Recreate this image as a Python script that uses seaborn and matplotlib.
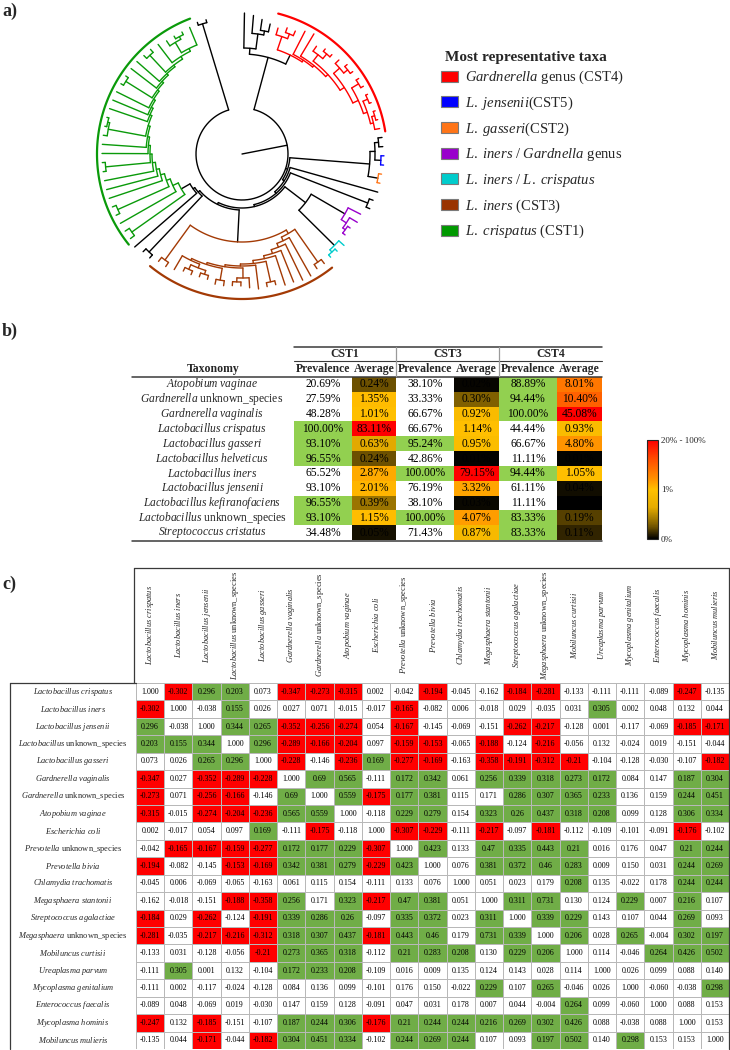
import numpy as np
import pandas as pd
import matplotlib
matplotlib.use("Agg")
import matplotlib.pyplot as plt
import seaborn as sns
from matplotlib.colors import ListedColormap, LinearSegmentedColormap, Normalize
from matplotlib.cm import ScalarMappable
from matplotlib.patches import Patch
from matplotlib.lines import Line2D

sns.set_style("white")
plt.rcParams["font.family"] = ["Liberation Serif", "DejaVu Serif"]
plt.rcParams["mathtext.fontset"] = "custom"
plt.rcParams["mathtext.rm"] = "Liberation Serif"
plt.rcParams["mathtext.it"] = "Liberation Serif:italic"
plt.rcParams["mathtext.bf"] = "Liberation Serif:bold"

# ---------------- a) dendrogram (newick, number after ':' = node radius) ----------------
TOP_BLACK = "(k1:141,(k2:139,(k3:136,k4:133):125):121):106"
RED_CLADE = ("((r1:131,(r2:134,r3:134):129):124,"
             "(r4:138,(r5:140,((r6:131,(r7:134,r8:134):131):125,"
             "((r9:135,(r10:138,r11:138):135):130,((r12:139,r13:139):136,"
             "((r14:139,r15:139):137,((r16:140,r17:140):138,r18:140):135):132):128):122):117):114):112):110")
JEN_GAS = "(((k5:141,k6:141):137,(j1:142,j2:142):139):133,(o1:141,o2:141):138):128"
BLACK_PAIR1 = "(k8:139,k9:139):135"
PURPLE = "(p1:133,(p2:134,(p3:131,p4:131):128):125):119"
CYAN = "(c1:137,(c2:136,c3:136):133):130"
BROWN = ("(((b1:137,b2:137):132,(b3:140,(b4:140,(b5:138,(b6:138,((b7:135,b8:135):131,"
         "(b9:136,((b10:134,(b11:132,b12:132):128):124,((b13:133,b14:133):128,"
         "(((b15:130,b16:130):126,(b17:131,b18:131):127):122,b19:134):118):116):114):112)"
         ":110):107):104):100):96):92,(b20:136,b21:136):131):88")
BLACK_PAIR2 = "(k10:139,k11:139):135"
GREEN = ("((g1:140,g2:140):135,(g3:140,((g4:140,g5:140):136,(g6:140,(g7:140,(g8:140,"
         "((g9:140,g10:140):137,(g11:140,(g12:140,((g13:140,(g14:140,g15:140):138):136,"
         "(g16:140,(g17:140,(g18:140,((g19:140,g20:140):137,(g21:140,(g22:140,"
         "((g23:139,g24:139):135,(g25:138,((g26:136,(g27:136,g28:136):133):130,g29:137)"
         ":118):115):112):110):108):106):104):102):100):98):96):94):92):90):87):84):80):76):70")
TOP_LEFT = "(k13:139,k14:139):136"

A8 = "(k12:142," + GREEN + "):60"
A7 = "(" + BLACK_PAIR2 + "," + A8 + "):58"
A6 = "(" + BROWN + "," + A7 + "):56"
A5 = "((" + PURPLE + "," + CYAN + "):80," + A6 + "):54"
A4 = "(" + BLACK_PAIR1 + "," + A5 + "):52"
A3 = "(k7:141," + A4 + "):50"
A2 = "(" + JEN_GAS + "," + A3 + "):48"
TREE = "((" + TOP_BLACK + "," + RED_CLADE + "):100," + A2 + "," + TOP_LEFT + "):46"

TREE_COLORS = {"r": "#ff0000", "j": "#0000ff", "o": "#ff7518", "p": "#9900cc",
               "c": "#00cccc", "b": "#a33a05", "g": "#0a9a0a"}

LEGEND_TITLE = "Most representative taxa"
LEGEND_LABELS = [r"$\mathit{Gardnerella}$ genus (CST4)", r"$\mathit{L.\ jensenii}$(CST5)",
                 r"$\mathit{L.\ gasseri}$(CST2)", r"$\mathit{L.\ iners\ /\ Gardnella}$ genus",
                 r"$\mathit{L.\ iners\ /\ L.\ crispatus}$", r"$\mathit{L.\ iners}$ (CST3)",
                 r"$\mathit{L.\ crispatus}$ (CST1)"]
LEGEND_COLORS = ["#ff0000", "#0000ff", "#ff7518", "#9900cc", "#00cccc", "#993300", "#009900"]

# ---------------- b) table ----------------
TAXA_B = ["Atopobium vaginae", "Gardnerella unknown_species", "Gardnerella vaginalis",
          "Lactobacillus crispatus", "Lactobacillus gasseri", "Lactobacillus helveticus",
          "Lactobacillus iners", "Lactobacillus jensenii", "Lactobacillus kefiranofaciens",
          "Lactobacillus unknown_species", "Streptococcus cristatus"]
CST_NAMES = ["CST1", "CST3", "CST4"]
PREV_CST1 = [20.69, 27.59, 48.28, 100.00, 93.10, 96.55, 65.52, 93.10, 96.55, 93.10, 34.48]
AVG_CST1 = [0.24, 1.35, 1.01, 83.11, 0.63, 0.24, 2.87, 2.01, 0.39, 1.15, 0.05]
HIGH_CST1 = [0, 0, 0, 1, 1, 1, 0, 0, 1, 1, 0]
PREV_CST3 = [38.10, 33.33, 66.67, 66.67, 95.24, 42.86, 100.00, 76.19, 38.10, 100.00, 71.43]
AVG_CST3 = [0.02, 0.30, 0.92, 1.14, 0.95, 0.01, 79.15, 3.32, 0.03, 4.07, 0.87]
HIGH_CST3 = [0, 0, 0, 0, 1, 0, 1, 0, 0, 1, 0]
PREV_CST4 = [88.89, 94.44, 100.00, 44.44, 66.67, 11.11, 94.44, 61.11, 11.11, 83.33, 83.33]
AVG_CST4 = [8.01, 10.40, 45.08, 0.93, 4.80, 0.01, 1.05, 0.04, 0.00, 0.19, 0.11]
HIGH_CST4 = [1, 1, 1, 0, 0, 0, 1, 0, 0, 1, 1]

# ---------------- c) correlation matrix ----------------
TAXA_C = ["Lactobacillus crispatus", "Lactobacillus iners", "Lactobacillus jensenii",
          "Lactobacillus unknown_species", "Lactobacillus gasseri", "Gardnerella vaginalis",
          "Gardnerella unknown_species", "Atopobium vaginae", "Escherichia coli",
          "Prevotella unknown_species", "Prevotella bivia", "Chlamydia trachomatis",
          "Megasphaera stantonii", "Streptococcus agalactiae", "Megasphaera unknown_species",
          "Mobiluncus curtisii", "Ureaplasma parvum", "Mycoplasma genitalium",
          "Enterococcus faecalis", "Mycoplasma hominis", "Mobiluncus mulieris"]
CORR = [
    "1.000 -0.302 0.296 0.203 0.073 -0.347 -0.273 -0.315 0.002 -0.042 -0.194 -0.045 -0.162 -0.184 -0.281 -0.133 -0.111 -0.111 -0.089 -0.247 -0.135",
    "-0.302 1.000 -0.038 0.155 0.026 0.027 0.071 -0.015 -0.017 -0.165 -0.082 0.006 -0.018 0.029 -0.035 0.031 0.305 0.002 0.048 0.132 0.044",
    "0.296 -0.038 1.000 0.344 0.265 -0.352 -0.256 -0.274 0.054 -0.167 -0.145 -0.069 -0.151 -0.262 -0.217 -0.128 0.001 -0.117 -0.069 -0.185 -0.171",
    "0.203 0.155 0.344 1.000 0.296 -0.289 -0.166 -0.204 0.097 -0.159 -0.153 -0.065 -0.188 -0.124 -0.216 -0.056 0.132 -0.024 0.019 -0.151 -0.044",
    "0.073 0.026 0.265 0.296 1.000 -0.228 -0.146 -0.236 0.169 -0.277 -0.169 -0.163 -0.358 -0.191 -0.312 -0.21 -0.104 -0.128 -0.030 -0.107 -0.182",
    "-0.347 0.027 -0.352 -0.289 -0.228 1.000 0.69 0.565 -0.111 0.172 0.342 0.061 0.256 0.339 0.318 0.273 0.172 0.084 0.147 0.187 0.304",
    "-0.273 0.071 -0.256 -0.166 -0.146 0.69 1.000 0.559 -0.175 0.177 0.381 0.115 0.171 0.286 0.307 0.365 0.233 0.136 0.159 0.244 0.451",
    "-0.315 -0.015 -0.274 -0.204 -0.236 0.565 0.559 1.000 -0.118 0.229 0.279 0.154 0.323 0.26 0.437 0.318 0.208 0.099 0.128 0.306 0.334",
    "0.002 -0.017 0.054 0.097 0.169 -0.111 -0.175 -0.118 1.000 -0.307 -0.229 -0.111 -0.217 -0.097 -0.181 -0.112 -0.109 -0.101 -0.091 -0.176 -0.102",
    "-0.042 -0.165 -0.167 -0.159 -0.277 0.172 0.177 0.229 -0.307 1.000 0.423 0.133 0.47 0.335 0.443 0.21 0.016 0.176 0.047 0.21 0.244",
    "-0.194 -0.082 -0.145 -0.153 -0.169 0.342 0.381 0.279 -0.229 0.423 1.000 0.076 0.381 0.372 0.46 0.283 0.009 0.150 0.031 0.244 0.269",
    "-0.045 0.006 -0.069 -0.065 -0.163 0.061 0.115 0.154 -0.111 0.133 0.076 1.000 0.051 0.023 0.179 0.208 0.135 -0.022 0.178 0.244 0.244",
    "-0.162 -0.018 -0.151 -0.188 -0.358 0.256 0.171 0.323 -0.217 0.47 0.381 0.051 1.000 0.311 0.731 0.130 0.124 0.229 0.007 0.216 0.107",
    "-0.184 0.029 -0.262 -0.124 -0.191 0.339 0.286 0.26 -0.097 0.335 0.372 0.023 0.311 1.000 0.339 0.229 0.143 0.107 0.044 0.269 0.093",
    "-0.281 -0.035 -0.217 -0.216 -0.312 0.318 0.307 0.437 -0.181 0.443 0.46 0.179 0.731 0.339 1.000 0.206 0.028 0.265 -0.004 0.302 0.197",
    "-0.133 0.031 -0.128 -0.056 -0.21 0.273 0.365 0.318 -0.112 0.21 0.283 0.208 0.130 0.229 0.206 1.000 0.114 -0.046 0.264 0.426 0.502",
    "-0.111 0.305 0.001 0.132 -0.104 0.172 0.233 0.208 -0.109 0.016 0.009 0.135 0.124 0.143 0.028 0.114 1.000 0.026 0.099 0.088 0.140",
    "-0.111 0.002 -0.117 -0.024 -0.128 0.084 0.136 0.099 -0.101 0.176 0.150 -0.022 0.229 0.107 0.265 -0.046 0.026 1.000 -0.060 -0.038 0.298",
    "-0.089 0.048 -0.069 0.019 -0.030 0.147 0.159 0.128 -0.091 0.047 0.031 0.178 0.007 0.044 -0.004 0.264 0.099 -0.060 1.000 0.088 0.153",
    "-0.247 0.132 -0.185 -0.151 -0.107 0.187 0.244 0.306 -0.176 0.21 0.244 0.244 0.216 0.269 0.302 0.426 0.088 -0.038 0.088 1.000 0.153",
    "-0.135 0.044 -0.171 -0.044 -0.182 0.304 0.451 0.334 -0.102 0.244 0.269 0.244 0.107 0.093 0.197 0.502 0.140 0.298 0.153 0.153 1.000",
]
# r = significant negative, g = significant positive, . = not significant
SIGNIF = [
    ".rgg.rrr..r..rr....r.",
    "r..g.....r......g....",
    "g..ggrrr.r...rr....rr",
    "ggg.grrr.rr.r.r......",
    "..gg.r.rgrr.rrrr....r",
    "r.rrr.gg.gg.ggggg..gg",
    "r.rr.g.grgg..gggg..gg",
    "r.rrrgg..gg.ggggg..gg",
    "....g.r..rr.r.r....r.",
    ".rrrrgggr.g.gggg...gg",
    "r..rrgggrg..gggg...gg",
    "...............g...gg",
    "...rrg.grgg..gg..g.g.",
    "r.r.rggg.gg.g.gg...g.",
    "r.rrrgggrgg.gg.g.g.gg",
    "....rggg.ggg.gg...ggg",
    ".g...ggg.............",
    "............g.g.....g",
    "...............g.....",
    "r.r..gggrggggggg.....",
    "..r.rggg.ggg..gg.g...",
]

W, H = 730, 1050
fig = plt.figure(figsize=(W / 100, H / 100), dpi=100)


def box(x0, y0, x1, y1):
    return [x0 / W, 1 - y1 / H, (x1 - x0) / W, (y1 - y0) / H]


def hline(x0, x1, y, lw=0.9, color="#3a3a3a"):
    fig.add_artist(Line2D([x0 / W, x1 / W], [1 - y / H] * 2, color=color, lw=lw))


def vline(x, y0, y1, lw=0.9, color="#3a3a3a"):
    fig.add_artist(Line2D([x / W] * 2, [1 - y0 / H, 1 - y1 / H], color=color, lw=lw))


def taxon_label(name):
    genus, sp = name.split(" ")
    if sp == "unknown_species":
        return r"$\mathit{%s}$ unknown_species" % genus
    return r"$\mathit{%s\ %s}$" % (genus, sp)


def parse_newick(s):
    pos = 0

    def node():
        nonlocal pos
        children = []
        if s[pos] == "(":
            pos += 1
            while True:
                children.append(node())
                if s[pos] == ",":
                    pos += 1
                else:
                    pos += 1
                    break
        start = pos
        while s[pos] != ":":
            pos += 1
        name = s[start:pos]
        pos += 1
        start = pos
        while pos < len(s) and s[pos] not in ",)":
            pos += 1
        return {"name": name, "r": float(s[start:pos]), "children": children}

    return node()


# ---------------- panel a ----------------
fig.text(2 / W, 1 - 11 / H, "a)", fontsize=13, fontweight="bold", va="center")
tree = parse_newick(TREE)
leaves = []


def collect(nd):
    if not nd["children"]:
        leaves.append(nd)
        nd["grp"] = {nd["name"][0]}
    for ch in nd["children"]:
        collect(ch)
    if nd["children"]:
        nd["grp"] = set().union(*[ch["grp"] for ch in nd["children"]])


collect(tree)
start_ang, end_ang = 89.0, -255.0
step = (start_ang - end_ang) / (len(leaves) - 1)
for i, lf in enumerate(leaves):
    lf["ang"] = start_ang - i * step


def set_angles(nd):
    if nd["children"]:
        for ch in nd["children"]:
            set_angles(ch)
        nd["ang"] = 0.5 * (nd["children"][0]["ang"] + nd["children"][-1]["ang"])


set_angles(tree)


def grp_color(nd):
    if len(nd["grp"]) == 1:
        return TREE_COLORS.get(next(iter(nd["grp"])), "black")
    return "black"


axt = fig.add_axes(box(92, 4, 392, 304))
axt.set_xlim(-150, 150)
axt.set_ylim(-150, 150)
axt.axis("off")
LW = 1.0


def draw(nd):
    if not nd["children"]:
        return
    col = grp_color(nd)
    th = np.radians(np.linspace(nd["children"][0]["ang"], nd["children"][-1]["ang"], 80))
    axt.plot(nd["r"] * np.cos(th), nd["r"] * np.sin(th), color=col, lw=LW)
    for ch in nd["children"]:
        t = np.radians(ch["ang"])
        axt.plot([nd["r"] * np.cos(t), ch["r"] * np.cos(t)], [nd["r"] * np.sin(t), ch["r"] * np.sin(t)],
                 color=col, lw=LW)
        draw(ch)


# root edge drawn towards the right, as in the original layout
root_dir = np.radians(11)
axt.plot([0, tree["r"] * np.cos(root_dir)], [0, tree["r"] * np.sin(root_dir)], color="black", lw=LW)
draw(tree)
for g in ["r", "b", "g"]:
    angs = [lf["ang"] for lf in leaves if lf["name"][0] == g]
    th = np.radians(np.linspace(max(angs) + step * 0.4, min(angs) - step * 0.4, 120))
    axt.plot(145 * np.cos(th), 145 * np.sin(th), color=TREE_COLORS[g], lw=1.6)

fig.text(445 / W, 1 - 58 / H, LEGEND_TITLE, fontsize=11, fontweight="bold", va="center")
handles = [Patch(facecolor=c, edgecolor="#7a7a7a", lw=0.8) for c in LEGEND_COLORS]
fig.legend(handles, LEGEND_LABELS, loc="upper left", bbox_to_anchor=(441 / W, 1 - 69 / H),
           frameon=False, fontsize=10.5,
           handlelength=1.15, handleheight=0.8, handletextpad=0.5, labelspacing=0.58,
           borderpad=0, borderaxespad=0)

# ---------------- panel b ----------------
fig.text(2 / W, 1 - 331 / H, "b)", fontsize=13, fontweight="bold", va="center")
PREV_CMAP = ListedColormap(["white", "#92d050"])
AVG_CMAP = LinearSegmentedColormap.from_list(
    "avg", [(0, "#000000"), (0.05, "#2c2100"), (0.12, "#6e5200"), (0.2, "#a07800"),
            (0.32, "#e6ac00"), (0.5, "#ffc000"), (0.6, "#ff9400"), (0.8, "#ff5000"), (1, "#ff0000")])


def avg_pos(v):
    return 0.5 * v if v <= 1 else 0.5 + 0.5 * min((v - 1) / 19, 1)


PREV = [PREV_CST1, PREV_CST3, PREV_CST4]
AVG = [AVG_CST1, AVG_CST3, AVG_CST4]
HIGH = [HIGH_CST1, HIGH_CST3, HIGH_CST4]
edges = [(294, 352, 396), (396, 454, 499), (499, 557, 602)]
tb_top, tb_bot = 377, 540
cell_kw = dict(size=8.3, color="black")
for k, cst in enumerate(CST_NAMES):
    x0, xm, x1 = edges[k]
    axp = fig.add_axes(box(x0, tb_top, xm, tb_bot))
    sns.heatmap(pd.DataFrame({"Prevalence": HIGH[k]}), ax=axp, cmap=PREV_CMAP, vmin=0, vmax=1,
                cbar=False, annot=np.array([[f"{v:.2f}%"] for v in PREV[k]]), fmt="",
                annot_kws=cell_kw, xticklabels=["Prevalence"],
                yticklabels=[taxon_label(t) for t in TAXA_B] if k == 0 else False)
    axa = fig.add_axes(box(xm, tb_top, x1, tb_bot))
    sns.heatmap(pd.DataFrame({"Average": [avg_pos(v) for v in AVG[k]]}), ax=axa, cmap=AVG_CMAP,
                vmin=0, vmax=1, cbar=False, annot=np.array([[f"{v:.2f}%"] for v in AVG[k]]),
                fmt="", annot_kws=cell_kw, xticklabels=["Average"], yticklabels=False)
    for ax in (axp, axa):
        ax.xaxis.tick_top()
        ax.tick_params(axis="x", length=0, pad=5.5)
        for tk in ax.xaxis.get_major_ticks():
            tk.label2.set_fontweight("bold")
            tk.label2.set_fontsize(8.5)
            tk.label2.set_va("center")
    if k == 0:
        axp.tick_params(axis="y", length=0, pad=59)
        for lab in axp.get_yticklabels():
            lab.set_ha("center")
            lab.set_fontsize(8.3)
            lab.set_rotation(0)
    fig.text((x0 + x1) / 2 / W, 1 - 354 / H, cst, fontsize=8.5, fontweight="bold",
             ha="center", va="center")

fig.text(213 / W, 1 - 369 / H, "Taxonomy", fontsize=8.5, fontweight="bold", ha="center", va="center")
hline(294, 602, 347, lw=1.1)
hline(294, 602, 361, lw=0.8)
hline(132, 602, 376.5, lw=1.1)
hline(132, 602, 541, lw=1.1)
vline(396, 347, 376, color="#9a9a9a")
vline(499, 347, 376, color="#9a9a9a")

cax = fig.add_axes(box(647, 440, 658, 539))
cb = fig.colorbar(ScalarMappable(norm=Normalize(0, 1), cmap=AVG_CMAP), cax=cax, ticks=[0, 0.5, 1])
cb.ax.set_yticklabels(["0%", "1%", "20% - 100%"], fontsize=6.5)
cb.ax.tick_params(length=0, pad=2)
cb.outline.set_linewidth(0.8)

# ---------------- panel c ----------------
fig.text(2 / W, 1 - 584 / H, "c)", fontsize=13, fontweight="bold", va="center")
labels_c = [taxon_label(t) for t in TAXA_C]
corr_txt = np.array([row.split() for row in CORR])
sig_val = {"r": -1, ".": 0, "g": 1}
sig = pd.DataFrame([[sig_val[ch] for ch in row] for row in SIGNIF], index=labels_c, columns=labels_c)
CORR_CMAP = ListedColormap(["#ff0000", "white", "#70ad47"])

axc = fig.add_axes(box(136, 683, 729, 1049))
sns.heatmap(sig, ax=axc, cmap=CORR_CMAP, vmin=-1, vmax=1, cbar=False, annot=corr_txt, fmt="",
            annot_kws=dict(size=5.8, color="black"), linewidths=0.6, linecolor="#b8b8b8",
            xticklabels=labels_c, yticklabels=labels_c)
axc.xaxis.tick_top()
axc.tick_params(axis="x", length=0, pad=58 * 0.72, labelrotation=90)
axc.tick_params(axis="y", length=0, pad=63 * 0.72, labelrotation=0)
for tk in axc.xaxis.get_major_ticks():
    tk.label2.set_va("center")
    tk.label2.set_fontsize(6)
for lab in axc.get_yticklabels():
    lab.set_ha("center")
    lab.set_fontsize(6)

hline(134, 729, 568, lw=0.9)
vline(134, 568, 683, lw=0.9)
vline(729, 568, 1049, lw=0.9)
vline(10, 683, 1049, lw=0.9)
hline(10, 136, 683, lw=0.9)

fig.savefig("out.png", dpi=100)
